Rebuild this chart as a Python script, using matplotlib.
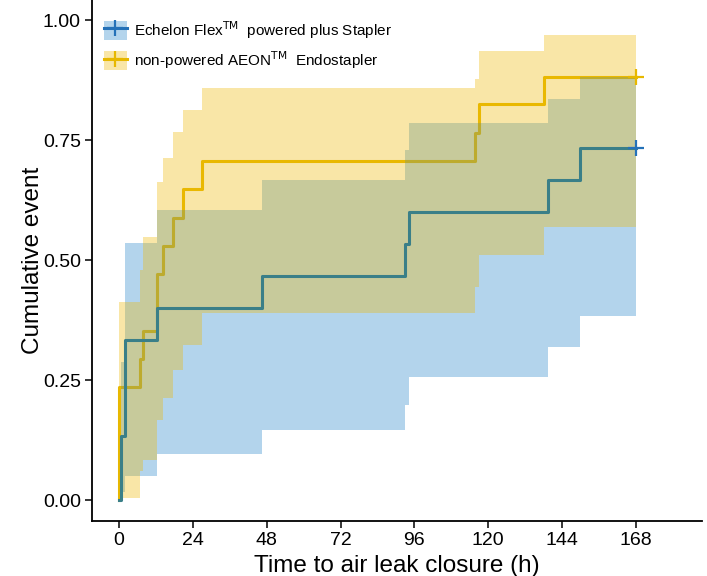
import matplotlib
matplotlib.use("Agg")
import matplotlib.pyplot as plt
from matplotlib.lines import Line2D
from matplotlib.patches import Patch

plt.rcParams["font.family"] = ["Liberation Sans", "DejaVu Sans"]

# Kaplan-Meier style cumulative event curves with step confidence bands
echelon_time = [0, 0.6, 1.9, 12.2, 46.5, 93.0, 94.2, 139.3, 149.7, 168]
echelon_event = [0, 0.133, 0.333, 0.400, 0.467, 0.533, 0.600, 0.667, 0.733, 0.733]
echelon_upper = [0, 0.288, 0.535, 0.604, 0.667, 0.729, 0.786, 0.835, 0.882, 0.882]
echelon_lower = [0, 0.017, 0.049, 0.096, 0.146, 0.198, 0.257, 0.319, 0.383, 0.383]

aeon_time = [0, 0, 6.8, 7.9, 12.2, 14.4, 17.6, 20.9, 26.8, 115.8, 117.0, 138.0, 168]
aeon_event = [0, 0.235, 0.294, 0.353, 0.471, 0.529, 0.588, 0.647, 0.706, 0.765, 0.824, 0.882, 0.882]
aeon_upper = [0, 0.413, 0.480, 0.547, 0.663, 0.712, 0.767, 0.8125, 0.858, 0.878, 0.936, 0.969, 0.969]
aeon_lower = [0, 0.005, 0.060, 0.083, 0.167, 0.212, 0.271, 0.323, 0.389, 0.444, 0.510, 0.569, 0.569]

x_ticks = [0, 24, 48, 72, 96, 120, 144, 168]
y_ticks = [0.00, 0.25, 0.50, 0.75, 1.00]

labels = ["Echelon Flex$^{\\mathrm{TM}}$  powered plus Stapler",
          "non-powered AEON$^{\\mathrm{TM}}$  Endostapler"]
line_colors = ["#2471B8", "#E7B800"]
band_colors = ["#2684C9", "#EEB804"]
band_alpha = 0.35
# the blue curve runs through the overlapping bands, where it reads teal
echelon_step_color = "#3A7F88"

fig = plt.figure(figsize=(7.07, 5.76), dpi=100)
ax = fig.add_axes([92 / 707, 55 / 576, (702 - 92) / 707, 521 / 576])

groups = [
    (echelon_time, echelon_event, echelon_lower, echelon_upper),
    (aeon_time, aeon_event, aeon_lower, aeon_upper),
]

for i, (t, lo, hi) in enumerate([(g[0], g[2], g[3]) for g in groups]):
    ax.fill_between(t, lo, hi, step="post", color=band_colors[i],
                    alpha=band_alpha, lw=0, zorder=3)

# yellow curve sits under the bands, blue curve on top of them
ax.step(aeon_time, aeon_event, where="post", color=line_colors[1],
        lw=2.2, zorder=2)
ax.step(echelon_time, echelon_event, where="post", color=echelon_step_color,
        lw=2.2, zorder=4)

for i, (t, ev, lo, hi) in enumerate(groups):
    ax.plot(t[-1], ev[-1], marker="+", ms=11, mew=1.6,
            color=line_colors[i], zorder=5)

ax.set_xlim(-8.8, 189.5)
ax.set_ylim(-0.04375, 1.0417)
ax.set_xticks(x_ticks)
ax.set_xticklabels([str(v) for v in x_ticks])
ax.set_yticks(y_ticks)
ax.set_yticklabels([f"{v:.2f}" for v in y_ticks])

for side in ["top", "right"]:
    ax.spines[side].set_visible(False)
for side in ["left", "bottom"]:
    ax.spines[side].set_linewidth(1.3)
    ax.spines[side].set_color("black")
ax.tick_params(axis="both", length=5, width=1.1, labelsize=14,
               colors="black", pad=3)

ax.set_xlabel("Time to air leak closure (h)", fontsize=17.5, labelpad=4)
ax.set_ylabel("Cumulative event", fontsize=17.5, labelpad=-1)

handles = []
for i in range(2):
    patch = Patch(facecolor=band_colors[i], alpha=band_alpha, lw=0)
    line = Line2D([], [], color=line_colors[i], lw=2.2, marker="+",
                  ms=11, mew=1.6)
    handles.append((patch, line))

ax.legend(handles, labels, loc="upper left", bbox_to_anchor=(-0.003, 0.99),
          frameon=False, fontsize=11, handlelength=1.5, handleheight=1.5,
          handletextpad=0.45, labelspacing=0.55, borderaxespad=0.5)

fig.savefig("out.png", dpi=100)
